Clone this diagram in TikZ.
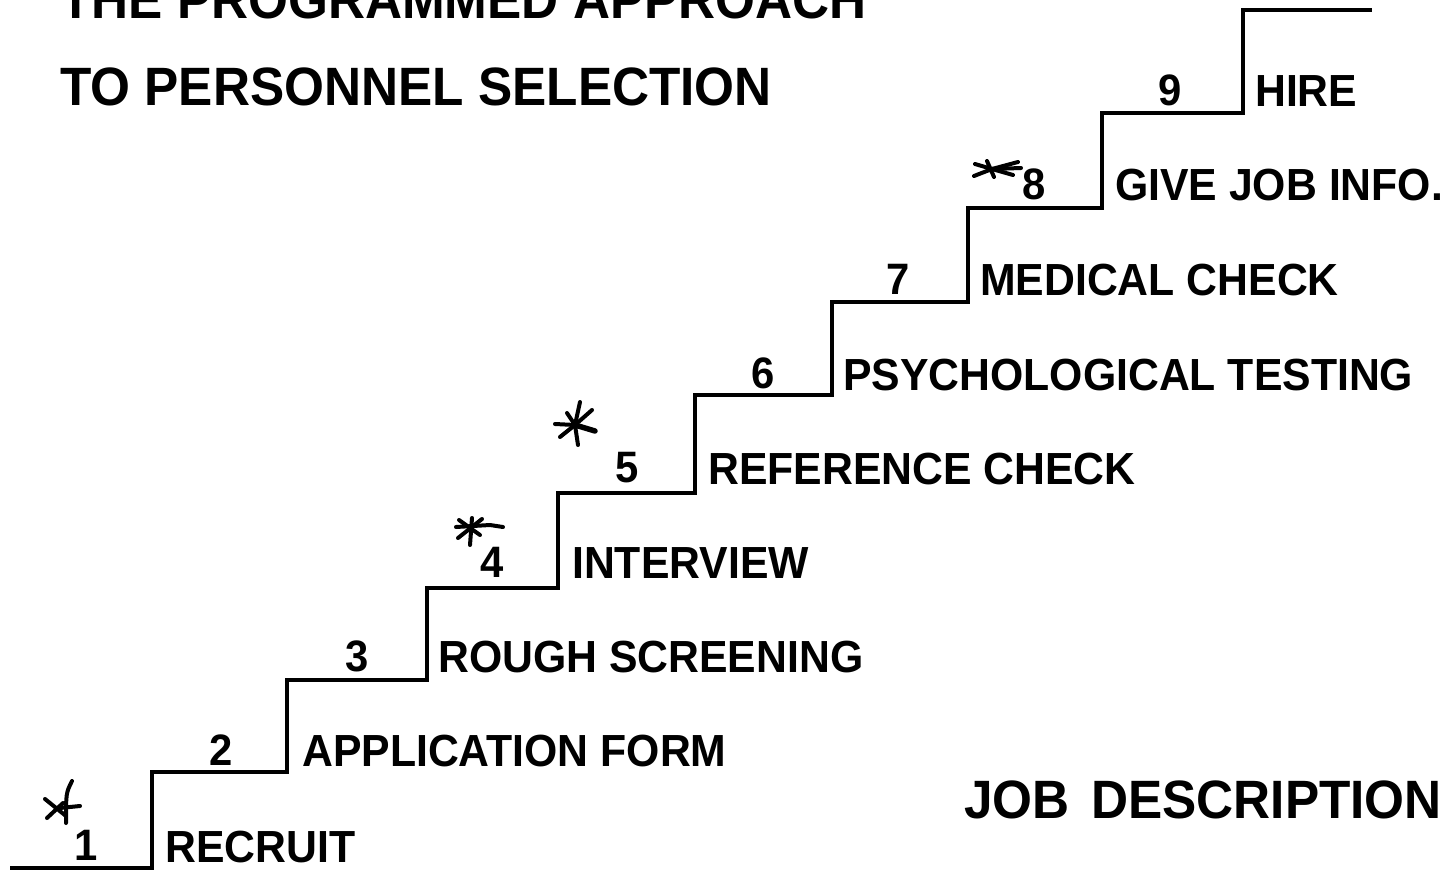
\documentclass[tikz,border=0pt]{standalone}
\usepackage{fontspec}
\setmainfont{Liberation Sans}
\newfontfamily\narrowsans[FakeStretch=0.95]{Liberation Sans}
\newfontfamily\headsans[FakeStretch=0.95]{Liberation Sans}
\begin{document}
\begin{tikzpicture}[x=1pt,y=-1pt,
  stairline/.style={line width=3.4pt,line join=miter},
  penstroke/.style={line width=4pt,line cap=round,line join=round},
  steplabel/.style={anchor=base west,inner sep=0pt,font=\narrowsans\fontsize{45}{53}\selectfont\bfseries},
  stepnum/.style={anchor=base,inner sep=0pt,font=\narrowsans\fontsize{44}{52}\selectfont\bfseries},
  headline/.style={anchor=base west,inner sep=0pt,font=\headsans\fontsize{54}{62}\selectfont\bfseries}]
\useasboundingbox (0,0) rectangle (1449,870);
\clip (0,0) rectangle (1449,870);
\fill[white] (0,0) rectangle (1449,870);

% title
\node[headline] (t1) at (60,18) {THE PROGRAMMED APPROACH};
\node[headline] (t2) at (60,105) {TO PERSONNEL SELECTION};
\node[headline] (jd) at (964,818) {JOB\hspace{0.4em}DESCRIPTION};

% the staircase
\coordinate (s0) at (10,868);
\draw[stairline] (s0) -| (152,772) -| (287,680) -| (427,588) -| (558,493)
  -| (695,395) -| (832,302) -| (968,208) -| (1102,113) -| (1243,10) -- (1372,10);

% step numbers
\node[stepnum] (n1) at (86,860) {1};
\node[stepnum] (n2) at (221,765) {2};
\node[stepnum] (n3) at (357,671) {3};
\node[stepnum] (n4) at (492,577) {4};
\node[stepnum] (n5) at (627,482) {5};
\node[stepnum] (n6) at (763,388) {6};
\node[stepnum] (n7) at (898,294) {7};
\node[stepnum] (n8) at (1034,199) {8};
\node[stepnum] (n9) at (1170,105) {9};

% step names
\node[steplabel] (l1) at (165,862) {RECRUIT};
\node[steplabel] (l2) at (302,766) {APPLICATION FORM};
\node[steplabel] (l3) at (438,672) {ROUGH SCREENING};
\node[steplabel] (l4) at (572,578) {INTERVIEW};
\node[steplabel] (l5) at (708,484) {REFERENCE CHECK};
\node[steplabel] (l6) at (843,390) {PSYCHOLOGICAL TESTING};
\node[steplabel] (l7) at (980,295) {MEDICAL CHECK};
\node[steplabel] (l8) at (1115,200) {GIVE JOB INFO.};
\node[steplabel] (l9) at (1255,106) {HIRE};

% hand-drawn asterisks
\draw[penstroke] (72,781) .. controls (66,793) .. (66,823);
\draw[penstroke] (45,799) -- (66,816);
\draw[penstroke] (47,818) -- (63,803);
\draw[penstroke] (60,808) -- (80,806);

\draw[penstroke] (456,527) -- (490,525) -- (503,527);
\draw[penstroke] (472,518) -- (470,545);
\draw[penstroke] (458,538) -- (482,519);
\draw[penstroke] (459,520) -- (480,535);

\draw[penstroke] (575,425) -- (580,402);
\draw[penstroke] (575,425) -- (592,410);
\draw[penstroke,line width=5.5pt] (575,425) -- (595,431);
\draw[penstroke] (575,425) .. controls (576,435) .. (578,445);
\draw[penstroke] (575,425) -- (560,437);
\draw[penstroke] (575,425) -- (555,424);
\draw[penstroke] (575,425) -- (567,413);

\draw[penstroke] (975,164) -- (992,169);
\draw[penstroke] (974,176) -- (992,169);
\draw[penstroke] (987,161) -- (994,177);
\draw[penstroke] (992,169) -- (1018,162);
\draw[penstroke] (992,169) -- (1021,168);
\draw[penstroke] (992,169) -- (1013,175);
\end{tikzpicture}
\end{document}
